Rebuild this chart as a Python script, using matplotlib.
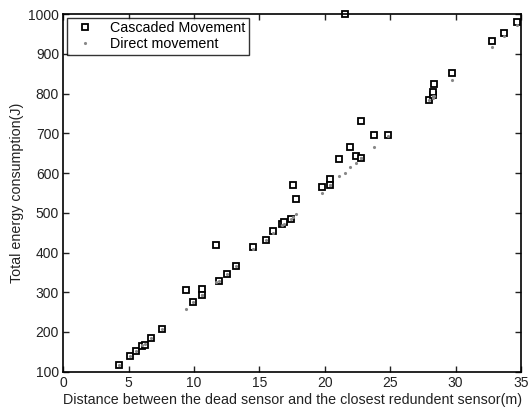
import matplotlib
matplotlib.use('Agg')
import matplotlib.pyplot as plt

plt.rcParams['font.family'] = ['Liberation Sans', 'DejaVu Sans']

# Distance between dead sensor and closest redundant sensor (m)
dist = [4.29, 5.11, 5.59, 6.05, 6.25, 6.74, 7.58, 9.39, 9.9, 10.61, 10.61,
        11.69, 11.9, 12.5, 13.2, 14.53, 15.5, 16.07, 16.7, 16.85, 17.42,
        17.55, 17.77, 19.76, 20.4, 20.4, 21.05, 21.55, 21.95, 22.35, 22.77,
        22.77, 23.8, 24.8, 27.97, 28.25, 28.3, 28.37, 29.75, 32.76, 33.7, 34.7]

# Total energy consumption (J)
cascaded = [116, 139, 152, 165, 168, 186, 208, 305, 276, 307, 292,
            420, 329, 346, 366, 413, 431, 454, 472, 478, 485,
            570, 534, 566, 584, 569, 635, 1000, 665, 643, 638,
            731, 696, 696, 785, 797, 803, 823, 853, 932, 953, 979]
direct = [118, 140, 153, 166, 169, 186, 208, 258, 276, 292, 292,
          325, 329, 346, 366, 408, 431, 450, 468, 472, 485,
          490, 497, 551, 570, 570, 592, 600, 614, 625, 638,
          638, 666, 694, 783, 790, 793, 795, 833, 917, 944, 972]

fig = plt.figure(figsize=(5.28, 4.12), dpi=100)
ax = fig.add_axes([0.1197, 0.0978, 0.867, 0.868])

ax.plot(dist, cascaded, 's', mfc='white', mec='black', ms=4.8, mew=1.3,
        label='Cascaded Movement', clip_on=False)
ax.plot(dist, direct, '.', color='#888888', ms=2.5, label='Direct movement')

ax.set_xlim(0, 35)
ax.set_ylim(100, 1000)
ax.set_xticks(range(0, 36, 5))
ax.set_yticks(range(100, 1001, 100))
ax.tick_params(direction='in', length=4, width=1, top=True, right=True,
               labelsize=10, pad=3, colors='#222222')
for s in ax.spines.values():
    s.set_linewidth(1.2)

ax.set_xlabel('Distance between the dead sensor and the closest redundent sensor(m)',
              fontsize=10.3, labelpad=2, color='#222222')
ax.set_ylabel('Total energy consumption(J)', fontsize=10.3, labelpad=3, color='#222222')

leg = ax.legend(loc='upper left', fontsize=10.3, frameon=True, fancybox=False,
                borderpad=0.25, handletextpad=0.8, labelspacing=0.12,
                borderaxespad=0.25, handlelength=2.0, markerscale=1.0)
leg.get_frame().set_edgecolor('black')
leg.get_frame().set_linewidth(1.0)

fig.savefig('out.png', dpi=100)
